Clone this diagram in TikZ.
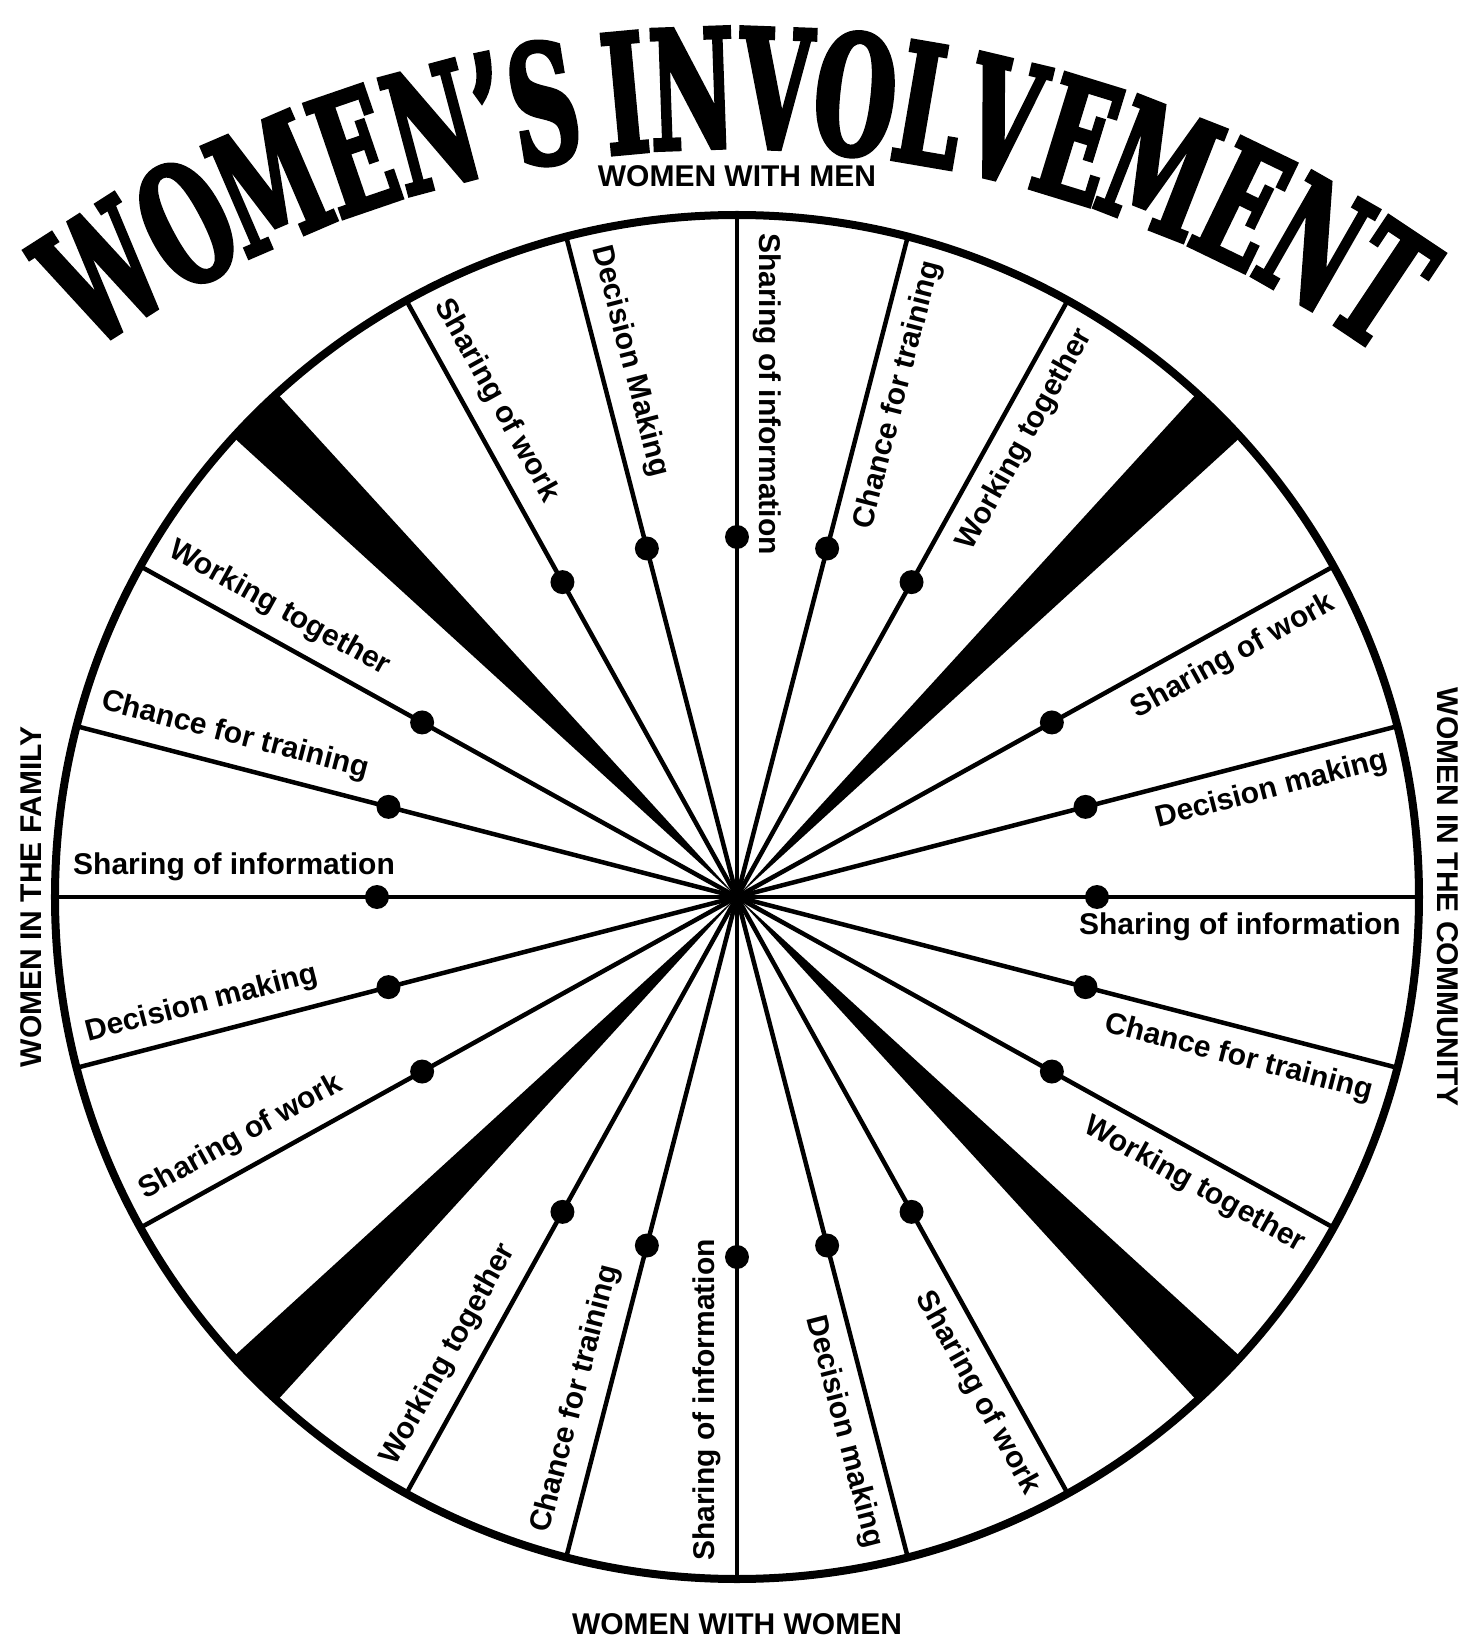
\documentclass[tikz,border=0pt]{standalone}
\usepackage{fontspec}
\newfontfamily\lblfont{Liberation Sans}
\newfontfamily\titlefont[FakeStretch=0.565,FakeBold=2.5]{DejaVu Serif}
\usetikzlibrary{calc}

\tikzset{
    rim/.style={line width=8pt},
    spoke/.style={line width=4.5pt},
    wedge/.style={fill=black},
    dot/.style={circle,fill=black,inner sep=0pt,minimum size=24pt},
    spokelbl/.style={font=\lblfont\bfseries\fontsize{30}{36}\selectfont,inner xsep=18pt,inner ysep=16pt},
    quadlbl/.style={font=\lblfont\bfseries\fontsize{30}{36}\selectfont,inner sep=0pt},
    titlechar/.style={font=\titlefont\bfseries\fontsize{165}{165}\selectfont,inner sep=0pt,anchor=base},
}

\begin{document}
\begin{tikzpicture}[x=1pt,y=1pt]
    \useasboundingbox (-737,-745) rectangle (738,897);
    \def\R{682}
    \coordinate (c) at (0,0);

    % Dark wedges between the four groups
    \foreach \w in {45,135,225,315}
        \fill[wedge] (c) -- (\w-2.6:\R) -- (\w+2.6:\R) -- cycle;

    % Spokes with their dots and labels
    \foreach \phi/\mk in {90/Making,0/making,-90/making,180/making} {
        \foreach \off/\txt [count=\i] in {29/Sharing of work,14.5/Decision \mk,0/Sharing of information,-14.5/Chance for training,-29/Working together} {
            \pgfmathsetmacro{\a}{\phi+\off}
            \coordinate (rim-\phi-\i) at (\a:\R);
            \draw[spoke] (c) -- (rim-\phi-\i);
            \node[dot] (dot-\phi-\i) at (\a:360) {};
            \pgfmathtruncatemacro{\outw}{cos(\a)>0.05}
            \ifnum\outw=1
                \node[spokelbl,rotate=\a,anchor=north east] (lbl-\phi-\i) at (rim-\phi-\i) {\txt};
            \else
                \node[spokelbl,rotate=\a+180,anchor=south west] (lbl-\phi-\i) at (rim-\phi-\i) {\txt};
            \fi
        }
    }

    % Rim
    \draw[rim] (c) circle (\R);

    % Group names
    \node[quadlbl] (men) at (90:721) {WOMEN WITH MEN};
    \node[quadlbl] (women) at (-90:727) {WOMEN WITH WOMEN};
    \node[quadlbl,rotate=90] (family) at (180:706) {WOMEN IN THE FAMILY};
    \node[quadlbl,rotate=-90] (community) at (0:711) {WOMEN IN THE COMMUNITY};

    % Title, one letter at a time on an arc
    \coordinate (tc) at (-4,-363);
    \foreach \ch/\ang [count=\k] in {W/122.6,O/117.8,M/113.3,E/108.9,N/104.9,’/101.9,S/99.3,I/95.3,N/92.0,V/87.9,O/84.0,L/80.3,V/76.7,E/72.9,M/68.6,E/64.2,N/60.2,T/56.3}
        \node[titlechar,rotate=\ang-90] (title-\k) at ($(tc)+(\ang:1112)$) {\ch};
\end{tikzpicture}
\end{document}
